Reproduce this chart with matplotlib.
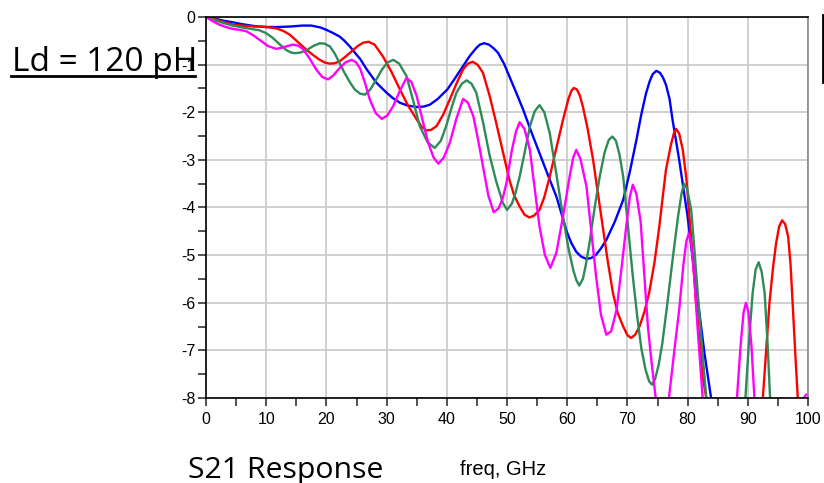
import numpy as np
import matplotlib
matplotlib.use("Agg")
import matplotlib.pyplot as plt
from matplotlib.lines import Line2D
from matplotlib.ticker import MultipleLocator

plt.rcParams["axes.unicode_minus"] = False

nan = np.nan

# S21 (dB) vs freq (GHz); nan = trace below -8 dB
blue_f = [0, 1, 2, 3, 4.4, 6, 8, 10, 12, 14, 16, 17.5, 19, 20, 21, 22.2, 23,
          23.9, 24.8, 25.6, 26.7, 28.3, 30, 31, 32.2, 33.5, 35, 36.2, 37.2,
          38.5, 40.1, 41.4, 42.7, 43.8, 44.9, 45.5, 46.2, 47, 47.8, 48.5,
          49.5, 50.4, 51.5, 52.7, 54, 55.4, 56.8, 58.2, 59.1, 59.9, 60.7,
          61.5, 62.3, 63.2, 64, 64.8, 65.6, 66.5, 67.9, 69.3, 70.4, 71.5,
          72.3, 73.1, 73.7, 74.2, 74.8, 75.4, 75.9, 76.4, 77, 77.5, 78.6, 80,
          81.4, 82.8, 83.9]
blue_db = [0, -0.02, -0.05, -0.08, -0.11, -0.15, -0.19, -0.21, -0.21, -0.2,
           -0.18, -0.18, -0.22, -0.27, -0.33, -0.41, -0.5, -0.62, -0.76,
           -0.88, -1.1, -1.38, -1.59, -1.7, -1.8, -1.86, -1.89, -1.88, -1.84,
           -1.72, -1.52, -1.28, -1.03, -0.82, -0.65, -0.58, -0.55, -0.58,
           -0.66, -0.75, -0.98, -1.25, -1.58, -1.95, -2.4, -2.86, -3.32, -3.77,
           -4.15, -4.5, -4.75, -4.93, -5.03, -5.08, -5.06, -4.99, -4.86, -4.68,
           -4.3, -3.84, -3.25, -2.58, -2.05, -1.6, -1.35, -1.2, -1.13, -1.17,
           -1.27, -1.42, -1.72, -2.16, -3.0, -4.19, -5.66, -7.06, -8.0]

red_f = [0, 1, 2, 3, 4.4, 6, 8, 10, 11.7, 12.8, 13.9, 15.3, 16.7, 17.8, 18.9,
         19.8, 20.6, 21.4, 22.2, 23.2, 24.2, 25.2, 26.1, 27, 28, 29.4, 30.8,
         32.2, 33.6, 35, 35.8, 36.6, 37.4, 38.3, 39.4, 40.5, 41.6, 42.7,
         43.5, 44.3, 45.1, 46, 47.1, 48.2, 48.8, 50.4, 51.2, 52.1, 52.9,
         53.7, 54.5, 55.4, 56.2, 57.1, 58.2, 59.3, 60.2, 60.7, 61.1, 61.6,
         62.1, 62.6, 63.4, 64.3, 65.1, 65.9, 66.7, 67.6, 68.4, 69.3, 70,
         70.6, 71.3, 72, 72.8, 73.6, 74.5, 75.3, 75.8, 76.4, 77.2, 77.7,
         78.1, 78.6, 79.2, 79.8, 80.3, 80.9, 81.4, 82, 82.5, 83.1, nan,
         92.5, 93.1, 93.6, 94.2, 94.7, 95.2, 95.7, 96.2, 96.7, 97.1, 97.5,
         97.9, 98.3]
red_db = [0, -0.03, -0.07, -0.11, -0.16, -0.18, -0.2, -0.21, -0.24, -0.29,
          -0.37, -0.53, -0.69, -0.8, -0.9, -0.96, -0.98, -0.97, -0.93, -0.83,
          -0.72, -0.61, -0.54, -0.52, -0.58, -0.83, -1.15, -1.52, -1.87,
          -2.15, -2.3, -2.38, -2.37, -2.29, -2.05, -1.73, -1.4, -1.1, -0.98,
          -0.94, -1.0, -1.17, -1.65, -2.22, -2.55, -3.42, -3.75, -3.98, -4.15,
          -4.21, -4.17, -4.05, -3.78, -3.35, -2.75, -2.16, -1.72, -1.55,
          -1.49, -1.52, -1.65, -1.88, -2.35, -3.0, -3.7, -4.4, -5.1, -5.8,
          -6.22, -6.5, -6.68, -6.74, -6.67, -6.5, -6.2, -5.8, -5.15, -4.4,
          -3.85, -3.21, -2.7, -2.45, -2.35, -2.45, -2.79, -3.4, -4.19, -5.1,
          -6.0, -6.8, -7.55, -8.0, nan,
          -8.0, -6.9, -6.0, -5.25, -4.75, -4.4, -4.27, -4.35, -4.61, -5.2,
          -6.14, -7.1, -8.0]

green_f = [0, 1, 2, 3, 4.4, 6.5, 8.9, 10, 11.1, 12.2, 13.3, 14, 14.7, 15.6,
           16.7, 17.8, 18.9, 19.7, 20.6, 21.4, 22.2, 23, 23.9, 24.7, 25.6,
           26.4, 27.3, 28.3, 29.2, 30.1, 31.1, 32.1, 33.3, 34.4, 35.5, 36.8,
           38, 39, 39.9, 40.8, 41.6, 42.5, 43.3, 44.1, 44.9, 46, 47.1, 48.2,
           49.3, 50, 50.8, 51.4, 52.1, 53, 53.8, 54.6, 55.4, 56.2, 57.1, 58.2,
           59.3, 60.2, 61, 61.5, 62, 62.6, 63.1, 63.7, 64.5, 65.4, 66.2, 66.9,
           67.5, 68.1, 68.7, 69.3, 70.1, 70.9, 71.6, 72.3, 73, 73.6, 74.1,
           74.6, 75.2, 75.8, 76.6, 77.5, 78.4, 79, 79.4, 79.9, 80.6, 81.2,
           81.9, 82.5, 83.1, nan,
           89.6, 90.2, 90.8, 91.3, 91.8, 92.3, 92.8, 93.3, 93.7]
green_db = [0, -0.04, -0.09, -0.13, -0.18, -0.23, -0.28, -0.34, -0.44, -0.57,
            -0.69, -0.74, -0.76, -0.75, -0.7, -0.61, -0.55, -0.56, -0.62,
            -0.77, -0.97, -1.17, -1.37, -1.52, -1.61, -1.63, -1.52, -1.31,
            -1.11, -0.96, -0.9, -0.98, -1.24, -1.75, -2.29, -2.63, -2.75,
            -2.6, -2.29, -1.9, -1.59, -1.4, -1.33, -1.4, -1.59, -2.2, -2.9,
            -3.45, -3.9, -4.05, -3.92, -3.7, -3.35, -2.8, -2.3, -1.98, -1.85,
            -2.0, -2.44, -3.3, -4.19, -4.85, -5.31, -5.52, -5.64, -5.5, -5.2,
            -4.75, -4.05, -3.35, -2.85, -2.58, -2.51, -2.6, -2.9, -3.35, -4.4,
            -5.45, -6.25, -6.95, -7.4, -7.65, -7.72, -7.6, -7.3, -6.85, -6.05,
            -5.1, -4.2, -3.7, -3.5, -3.6, -4.05, -5.0, -6.15, -7.1, -8.0, nan,
            -8.0, -6.8, -5.8, -5.3, -5.15, -5.35, -5.8, -6.9, -8.0]

mag_f = [0, 1, 2.2, 3.3, 4.4, 5.6, 6.7, 7.8, 8.9, 10.3, 11.7, 13, 14.4, 15.3,
         16.1, 17.2, 18.3, 19.3, 20.3, 21.2, 22.2, 23.2, 24.2, 24.9, 25.6,
         26.4, 27.2, 28.2, 29.2, 30.1, 31.1, 32.2, 33.3, 34.1, 35, 36, 36.9,
         37.8, 38.6, 39.5, 40.5, 41.6, 42.7, 43.5, 44.4, 45.2, 46, 46.9, 47.8,
         48.6, 49.3, 49.9, 50.8, 51.5, 52.1, 52.9, 53.8, 54.6, 55.4, 56.3,
         57.2, 58.2, 59.3, 60.4, 61, 61.5, 62.2, 63.2, 64, 64.8, 65.6, 66.5,
         67.3, 68.2, 69, 69.8, 70.4, 70.9, 71.5, 72.2, 72.8, 73.4, 74.1, 74.7,
         nan, 76.9, 77.8, 78.6, 79.3, 79.8, 80.2, 80.6, 81.1, 81.7, 82.5,
         nan, 88.2, 88.8, 89.3, 89.7, 90.1, 90.6, 91.1, nan, 99.3, 99.7]
mag_db = [0, -0.08, -0.16, -0.21, -0.25, -0.27, -0.3, -0.38, -0.48, -0.61,
          -0.67, -0.63, -0.58, -0.6, -0.67, -0.87, -1.1, -1.26, -1.31, -1.22,
          -1.07, -0.95, -0.9, -0.95, -1.08, -1.38, -1.73, -2.02, -2.14, -2.07,
          -1.87, -1.55, -1.28, -1.36, -1.66, -2.18, -2.64, -2.95, -3.08,
          -2.95, -2.64, -2.13, -1.72, -1.8, -2.08, -2.58, -3.13, -3.75, -4.1,
          -4.02, -3.8, -3.49, -2.8, -2.4, -2.21, -2.35, -2.79, -3.6, -4.4,
          -5.0, -5.27, -4.95, -4.19, -3.35, -2.95, -2.79, -2.98, -3.56, -4.5,
          -5.45, -6.25, -6.67, -6.6, -6.15, -5.3, -4.4, -3.78, -3.52, -3.72,
          -4.3, -5.4, -6.5, -7.35, -8.0,
          nan, -8.0, -7.0, -6.15, -5.2, -4.7, -4.55, -4.75, -5.45, -6.6, -8.0,
          nan, -8.0, -6.9, -6.2, -6.0, -6.2, -6.9, -8.0, nan, -8.0, -7.93]

series = [(blue_f, blue_db, "#0000ff"),
          (red_f, red_db, "#ff0000"),
          (green_f, green_db, "#2e8b57"),
          (mag_f, mag_db, "#ff00ff")]

x_ticks = np.arange(0, 101, 10)
y_ticks = np.arange(-8, 1, 1)

fig = plt.figure(figsize=(8.24, 4.83), dpi=100)
ax = fig.add_axes([0.25, 0.176, 0.7306, 0.7888])

for f, db, col in series:
    ax.plot(f, db, color=col, lw=1.7, solid_joinstyle="round")

ax.set_xlim(0, 100)
ax.set_ylim(-8, 0)
ax.set_xticks(x_ticks)
ax.set_yticks(y_ticks)
ax.xaxis.set_minor_locator(MultipleLocator(5))
ax.yaxis.set_minor_locator(MultipleLocator(0.5))
ax.grid(True, which="major", color="#c8c8c8", lw=1.2)
ax.set_axisbelow(True)
ax.tick_params(which="both", direction="out", length=6, width=1.1,
               color="#222222", labelsize=11.5)
ax.tick_params(axis="y", pad=1.5)
ax.tick_params(axis="x", pad=4)
for lab in ax.get_xticklabels() + ax.get_yticklabels():
    lab.set_fontfamily("Liberation Sans")
for s in ["left", "bottom", "top"]:
    ax.spines[s].set_color("black")
    ax.spines[s].set_linewidth(1.2)
ax.spines["right"].set_color("#888888")
ax.spines["right"].set_linewidth(1.2)

# annotations around the plot
fig.text(12 / 824, 1 - 71 / 483, "Ld = 120 pH", fontsize=24,
         family="Open Sans", ha="left", va="baseline")
fig.add_artist(Line2D([11 / 824, 195 / 824], [1 - 76 / 483, 1 - 76 / 483],
                      color="black", lw=2))
fig.text(188 / 824, 1 - 478 / 483, "S21 Response", fontsize=21.8,
         family="Open Sans", ha="left", va="baseline")
fig.text(460 / 824, 1 - 475 / 483, "freq, GHz", fontsize=14.5,
         family="Liberation Sans", ha="left", va="baseline")
fig.add_artist(Line2D([822.5 / 824, 822.5 / 824], [1 - 15 / 483, 1 - 82 / 483],
                      color="black", lw=2))

fig.savefig("out.png", dpi=100)
